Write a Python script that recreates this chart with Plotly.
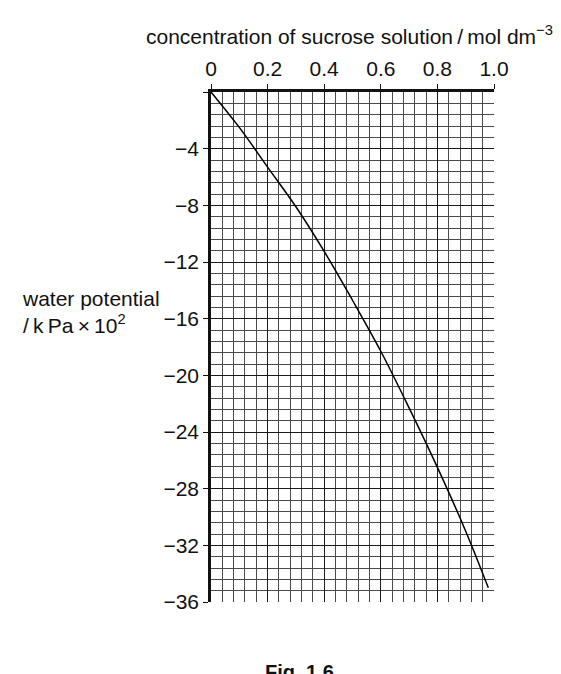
import plotly.graph_objects as go

# concentration of sucrose solution / mol dm-3
concentracion = [0, 0.1, 0.2, 0.3, 0.4, 0.5, 0.6, 0.7, 0.8, 0.9, 0.98]
# water potential / kPa x 10^2
potencial = [0, -2.5, -5.3, -8.1, -11.25, -14.7, -18.3, -22.3, -26.5, -31.0, -35.0]

x_ticks = [0, 0.2, 0.4, 0.6, 0.8, 1.0]
x_labels = ['0', '0.2', '0.4', '0.6', '0.8', '1.0']
y_ticks = [0, -4, -8, -12, -16, -20, -24, -28, -32, -36]
y_labels = ['', '−4', '−8', '−12', '−16', '−20', '−24', '−28', '−32', '−36']

fuente = 'Liberation Sans, Arial, sans-serif'

fig = go.Figure()
fig.add_trace(go.Scatter(x=concentracion, y=potencial, mode='lines',
                         line=dict(color='black', width=1.5, shape='spline'),
                         showlegend=False, hoverinfo='skip'))

# la pagina tiene 8px de margen en el body, se compensa aqui
fig.update_layout(
    width=553, height=666,
    margin=dict(l=203, r=67, t=84, b=72),
    plot_bgcolor='white', paper_bgcolor='white',
    font=dict(family=fuente, size=21, color='#111'),
)

fig.update_xaxes(
    side='top', range=[0, 1.0], tickvals=x_ticks, ticktext=x_labels,
    showline=True, linecolor='#111', linewidth=2.5,
    ticks='outside', ticklen=5, tickcolor='#111',
    showgrid=True, gridcolor='#1a1a1a', gridwidth=1.4,
    minor=dict(dtick=0.04, showgrid=True, gridcolor='#4a4a4a', gridwidth=0.9),
    zeroline=False,
)
fig.update_yaxes(
    range=[-36, 0], tickvals=y_ticks, ticktext=y_labels,
    showline=True, linecolor='#111', linewidth=2.5,
    ticks='outside', ticklen=5, tickcolor='#111',
    showgrid=True, gridcolor='#1a1a1a', gridwidth=1.4,
    minor=dict(dtick=0.8, showgrid=True, gridcolor='#4a4a4a', gridwidth=0.9),
    zeroline=False,
)

fig.add_annotation(
    text='concentration of sucrose solution\u2009/\u2009mol dm<sup>−3</sup>',
    xref='paper', yref='paper', x=0.488, y=1.112,
    xanchor='center', yanchor='middle', showarrow=False,
    font=dict(family=fuente, size=21, color='#111'),
)
fig.add_annotation(
    text='water potential<br>/\u2009k\u2009Pa\u2009×\u200910<sup>2</sup>',
    xref='paper', yref='paper', x=-0.675, y=0.569,
    xanchor='left', yanchor='middle', align='left', showarrow=False,
    font=dict(family=fuente, size=21, color='#111'),
)
fig.add_annotation(
    text='<b>Fig. 1.6</b>',
    xref='paper', yref='paper', x=0.311, y=-0.111,
    xanchor='center', yanchor='top', showarrow=False,
    font=dict(family=fuente, size=20, color='#111'),
)

fig.write_html('out.html')
